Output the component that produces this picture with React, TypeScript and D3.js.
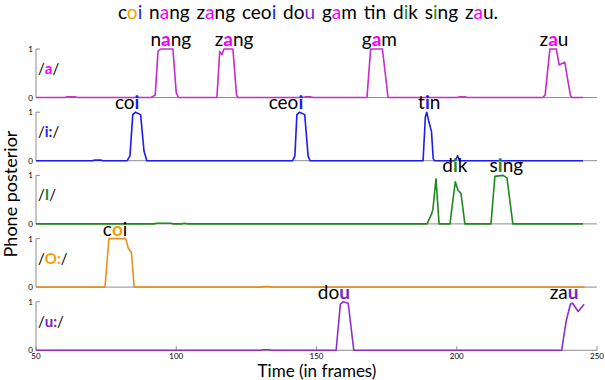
import React from "react";
import * as d3 from "d3";

// ---------- data (frame, posterior) ----------
const framesDomain: [number, number] = [50, 250];
const xTicks = [50, 100, 150, 200, 250];
const yTicks = [0, 1];

const phoneA: [number, number][] = [
  [50, 0], [60, 0], [61, 0.012], [64, 0.012], [65, 0], [91, 0], [92.5, 0.05], [93.5, 0.95], [94.5, 1], [98.8, 1], [100, 0.1], [100.8, 0],
  [114.5, 0], [115.5, 0.95], [116.3, 0.88], [117, 1], [120.2, 1], [121.5, 0.05], [122, 0],
  [145, 0], [146, 0.012], [148, 0.012], [149, 0], [168, 0], [169.3, 1], [173.5, 1], [175.5, 0],
  [200, 0], [201, 0.012], [203, 0.012], [204, 0],
  [230.7, 0], [231.5, 0.05], [233.2, 1], [235.5, 1], [236.5, 0.67], [238.5, 0.73], [240.5, 0.05], [241, 0], [245, 0],
];
const phoneI: [number, number][] = [
  [50, 0], [70, 0], [71, 0.012], [73, 0.012], [74, 0], [82.5, 0], [83.5, 0.1], [84.5, 0.95], [85.5, 1], [87.3, 0.95], [88.5, 0.2], [89.5, 0],
  [141.5, 0], [142.3, 0.1], [143, 0.95], [144, 1], [145.8, 0.95], [147, 0.1], [147.7, 0],
  [188, 0], [188.8, 0.9], [189.3, 1], [190, 0.82], [191, 0.6], [191.6, 0.05], [192, 0],
  [199.5, 0], [200.3, 0.1], [201, 0], [245, 0],
];
const phoneIh: [number, number][] = [
  [50, 0], [92, 0], [93, 0.012], [98, 0.012], [99, 0], [102, 0], [103, 0.012], [104, 0],
  [189.4, 0], [191, 0.2], [191.5, 0.3], [192.6, 0.93], [193.7, 0],
  [197.6, 0], [198.2, 0.3], [199.5, 0.87], [200.4, 0.7], [201.5, 0.63], [202.9, 0],
  [212.2, 0], [213.6, 0.98], [216.5, 1], [217.9, 0.95], [220, 0], [245, 0],
];
const phoneO: [number, number][] = [
  [50, 0], [74.6, 0], [76, 1], [82, 1], [82.9, 0.8], [84, 0.72], [85, 0],
  [130, 0], [131, 0.012], [133, 0.012], [134, 0], [245.5, 0],
];
const phoneU: [number, number][] = [
  [50, 0], [130, 0], [131, 0.012], [133, 0.012], [134, 0], [157, 0], [158.5, 0.95], [159.5, 1], [161.3, 0.97], [163.3, 0],
  [237.4, 0], [239, 0.6], [240.5, 0.95], [241.3, 0.97], [243.3, 0.8], [245.4, 0.95],
];

const phoneNames = ["a", "i:", "I", "O:", "u:"];
const phoneSeries = [phoneA, phoneI, phoneIh, phoneO, phoneU];
const lineColors = ["#c62cc6", "#1c1cf0", "#1e8a1e", "#e8901c", "#8a30d0"];
const labelColors = ["#f000f0", "#1c1cf0", "#1e8a1e", "#f5a000", "#7a20c8"];

// word labels: [prefix, vowel, suffix, frame of vowel]
const wordLabels: [string, string, string, number][][] = [
  [["n", "a", "ng", 96.3], ["z", "a", "ng", 118.5], ["g", "a", "m", 171.4], ["z", "a", "u", 234.3]],
  [["co", "i", "", 86], ["ceo", "i", "", 144.4], ["t", "i", "n", 189.5]],
  [["d", "i", "k", 199.5], ["s", "i", "ng", 215.5]],
  [["c", "o", "i", 79]],
  [["do", "u", "", 160], ["za", "u", "", 241.5]],
];

// title words: pieces [text, colour index or -1]
const titleWords: [string, number][][] = [
  [["c", -1], ["o", 3], ["i", 1]],
  [["n", -1], ["a", 0], ["ng", -1]],
  [["z", -1], ["a", 0], ["ng", -1]],
  [["ceo", -1], ["i", 1]],
  [["do", -1], ["u", 4]],
  [["g", -1], ["a", 0], ["m", -1]],
  [["t", -1], ["i", 1], ["n", -1]],
  [["d", -1], ["i", 2], ["k", -1]],
  [["s", -1], ["i", 2], ["ng", -1]],
  [["z", -1], ["a", 0], ["u.", -1]],
];

const W = 605;
const H = 380;
const left = 36;
const right = 597;
const firstTop = 49;
const panelStep = 63.2;
const panelH = 48.5;
const FONT = "Lato, 'Open Sans', sans-serif";
const WORD_FS = 19;

let ctx: CanvasRenderingContext2D | null = null;
function measure(t: string, bold: boolean): number {
  if (!ctx) {
    const c = document.createElement("canvas");
    ctx = c.getContext("2d");
  }
  if (!ctx) return t.length * 9;
  ctx.font = `${bold ? "bold " : ""}${WORD_FS}px Lato`;
  return ctx.measureText(t).width;
}

export default function App() {
  const x = d3.scaleLinear().domain(framesDomain).range([left, right]);
  return (
    <svg width={W} height={H} style={{ position: "absolute", left: 0, top: 0, background: "#fff" }} fontFamily={FONT}>
      {/* title */}
      <text x={308} y={19} fontSize={19} textAnchor="middle" fill="#000" wordSpacing={2}>
        {titleWords.map((w, wi) => (
          <React.Fragment key={wi}>
            {wi > 0 ? <tspan> </tspan> : null}
            {w.map(([t, c], ci) => (
              <tspan key={ci} fill={c < 0 ? "#000" : labelColors[c]}>{t}</tspan>
            ))}
          </React.Fragment>
        ))}
      </text>

      {phoneSeries.map((series, k) => {
        const top = firstTop + k * panelStep;
        const y = d3.scaleLinear().domain([0, 1]).range([top + panelH, top]);
        const line = d3.line<[number, number]>().x((d) => x(d[0])).y((d) => y(d[1]));
        const isLast = k === phoneSeries.length - 1;
        return (
          <g key={k}>
            {/* axes */}
            <line x1={left} x2={right} y1={y(0)} y2={y(0)} stroke="#8c8c8c" strokeWidth={1} />
            <line x1={left} x2={left} y1={y(0)} y2={y(1)} stroke="#8c8c8c" strokeWidth={1} />
            <line x1={left} x2={left + 4} y1={y(1)} y2={y(1)} stroke="#8c8c8c" strokeWidth={1} />
            {yTicks.map((t) => (
              <text key={t} x={left - 3} y={y(t) + 3} fontSize={8} textAnchor="end" fill="#000">{t}</text>
            ))}
            {isLast &&
              xTicks.map((t) => (
                <g key={t}>
                  <line x1={x(t)} x2={x(t)} y1={y(0)} y2={y(0) - 4} stroke="#8c8c8c" strokeWidth={1} />
                  <text x={x(t)} y={y(0) + 9} fontSize={8} textAnchor="middle" fill="#000">{t}</text>
                </g>
              ))}
            {/* data */}
            <path d={line(series) || ""} fill="none" stroke={lineColors[k]} strokeWidth={1.6} strokeLinejoin="round" />
            {/* phone label */}
            <text x={left + 2} y={top + 25} fontSize={15} fill="#000">
              <tspan>/</tspan>
              <tspan fill={labelColors[k]} fontWeight="bold">{phoneNames[k]}</tspan>
              <tspan>/</tspan>
            </text>
            {/* word labels */}
            {wordLabels[k].map(([pre, v, suf, f], i) => {
              const vw = measure(v, true);
              const cx = x(f);
              const by = top - 3;
              return (
                <g key={i} fontSize={WORD_FS}>
                  {pre ? <text x={cx - vw / 2} y={by} textAnchor="end" fill="#000">{pre}</text> : null}
                  <text x={cx} y={by} textAnchor="middle" fill={labelColors[k]} fontWeight="bold">{v}</text>
                  {suf ? <text x={cx + vw / 2} y={by} textAnchor="start" fill="#000">{suf}</text> : null}
                </g>
              );
            })}
          </g>
        );
      })}

      <text transform={`translate(17,194) rotate(-90)`} fontSize={18} textAnchor="middle" fill="#000">
        Phone posterior
      </text>
      <text x={317} y={377} fontSize={17} textAnchor="middle" fill="#000">Time (in frames)</text>
    </svg>
  );
}
